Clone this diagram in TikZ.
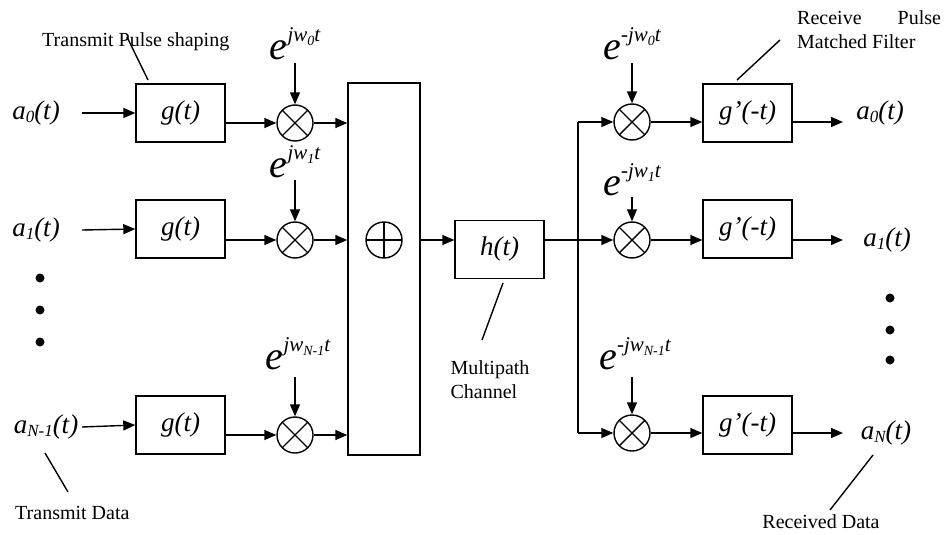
\documentclass[tikz,border=0pt]{standalone}
\usepackage{fontspec}
\setmainfont{Liberation Serif}
\usetikzlibrary{arrows.meta}
\newcommand\lbl{\fontsize{27}{29}\selectfont\itshape}
\newcommand\sml{\fontsize{20}{24}\selectfont}
\newcommand\mysub[1]{\raisebox{-3pt}{\fontsize{17}{17}\selectfont #1}}
\newcommand\expo[2]{{\fontsize{40}{40}\selectfont\itshape e}\raisebox{18pt}{\fontsize{21}{21}\selectfont\itshape #1w\raisebox{-4pt}{\fontsize{14}{14}\selectfont #2}t}}
\tikzset{
  ln/.style={line width=1.4pt},
  arr/.style={ln,-{Triangle[length=12pt,width=10pt]}},
  blk/.style={draw,ln,minimum width=89pt,minimum height=58pt,inner sep=0pt},
  mult/.style={draw,ln,circle,minimum size=36pt,inner sep=0pt,
    path picture={\draw[ln] (path picture bounding box.south west) -- (path picture bounding box.north east)
      (path picture bounding box.north west) -- (path picture bounding box.south east);}},
  addc/.style={draw,ln,circle,minimum size=36pt,inner sep=0pt,
    path picture={\draw[ln] (path picture bounding box.south) -- (path picture bounding box.north)
      (path picture bounding box.west) -- (path picture bounding box.east);}},
  dot/.style={circle,fill,inner sep=0pt,minimum size=9pt},
  txt/.style={inner sep=0pt},
  note/.style={inner sep=0pt,font=\sml},
}
\begin{document}
\begin{tikzpicture}[x=1pt,y=-1pt]
\useasboundingbox (0,0) rectangle (947,535);
% transmit side
\node[txt] (a0) at (36,113) {\lbl a\mysub{0}(t)};
\node[txt] (a1) at (36,230) {\lbl a\mysub{1}(t)};
\node[txt] (aN1) at (46,427) {\lbl a\mysub{N-1}(t)};
\node[dot] (d1) at (40,278) {};
\node[dot] (d2) at (40,310) {};
\node[dot] (d3) at (40,342) {};
\coordinate (i1) at (82,113);
\coordinate (i2) at (82,230);
\coordinate (i3) at (82,427);
\node[blk] (g1) at (180.5,113) {\lbl g(t)};
\node[blk] (g2) at (180.5,229) {\lbl g(t)};
\node[blk] (g3) at (180.5,425) {\lbl g(t)};
\node[mult] (m1) at (295,123) {};
\node[mult] (m2) at (295,240) {};
\node[mult] (m3) at (295,435) {};
\node[txt] (e1) at (295,44) {\expo{j}{0}};
\node[txt] (e2) at (295,162) {\expo{j}{1}};
\node[txt] (e3) at (298,354) {\expo{j}{N-1}};
\coordinate (e1a) at (295,63);
\coordinate (e2a) at (295,180);
\coordinate (e3a) at (295,377);
\draw[arr] (i1) -- (g1.west);
\draw[arr] (i2) -- (g2.west);
\draw[arr] (i3) -- (g3.west);
\draw[arr] (g1.east |- m1) -- (m1);
\draw[arr] (g2.east |- m2) -- (m2);
\draw[arr] (g3.east |- m3) -- (m3);
\draw[arr] (e1a) -- (m1);
\draw[arr] (e2a) -- (m2);
\draw[arr] (e3a) -- (m3);
% sum
\node[draw,ln,minimum width=72pt,minimum height=372pt,inner sep=0pt] (sum) at (384,269) {};
\node[addc] (plus) at (384,240) {};
\draw[arr] (m1) -- (m1 -| sum.west);
\draw[arr] (m2) -- (m2 -| sum.west);
\draw[arr] (m3) -- (m3 -| sum.west);
% channel
\node[blk] (h) at (499.5,249.5) {\lbl h(t)};
\draw[arr] (plus -| sum.east) -- (plus -| h.west);
\coordinate (bus) at (578,240);
\coordinate (bt) at (578,122);
\coordinate (bb) at (578,433);
\draw[ln] (h.east |- bus) -- (bus);
\draw[ln] (bt) -- (bb);
% receive side
\node[mult] (r1) at (632,122) {};
\node[mult] (r2) at (632,240) {};
\node[mult] (r3) at (632,433) {};
\draw[arr] (bt) -- (r1);
\draw[arr] (bus) -- (r2);
\draw[arr] (bb) -- (r3);
\node[txt] (f1) at (632,44) {\expo{-j}{0}};
\node[txt] (f2) at (632,180) {\expo{-j}{1}};
\node[txt] (f3) at (635,354) {\expo{-j}{N-1}};
\coordinate (f1a) at (632,63);
\coordinate (f2a) at (632,197);
\coordinate (f3a) at (632,377);
\draw[arr] (f1a) -- (r1);
\draw[arr] (f2a) -- (r2);
\draw[arr] (f3a) -- (r3);
\node[blk] (q1) at (747.5,113) {\lbl g’(-t)};
\node[blk] (q2) at (747.5,229) {\lbl g’(-t)};
\node[blk] (q3) at (747.5,425) {\lbl g’(-t)};
\draw[arr] (r1) -- (r1 -| q1.west);
\draw[arr] (r2) -- (r2 -| q2.west);
\draw[arr] (r3) -- (r3 -| q3.west);
\coordinate (o1) at (843,122);
\coordinate (o2) at (843,240);
\coordinate (o3) at (843,433);
\draw[arr] (q1.east |- o1) -- (o1);
\draw[arr] (q2.east |- o2) -- (o2);
\draw[arr] (q3.east |- o3) -- (o3);
\node[txt] (b0) at (880,113) {\lbl a\mysub{0}(t)};
\node[txt] (b1) at (887,240) {\lbl a\mysub{1}(t)};
\node[txt] (bN) at (886,433) {\lbl a\mysub{N}(t)};
\node[dot] (rd1) at (890,298) {};
\node[dot] (rd2) at (890,330) {};
\node[dot] (rd3) at (890,360) {};
% annotations
\node[note,anchor=west] (tps) at (42,42) {Transmit Pulse shaping};
\coordinate (tpsa) at (127,37);
\coordinate (tpsb) at (148,80);
\draw[ln] (tpsa) -- (tpsb);
\node[note,anchor=west] (td) at (15,513) {Transmit Data};
\coordinate (tda) at (45,453);
\coordinate (tdb) at (68,492);
\draw[ln] (tda) -- (tdb);
\node[note,align=left] (mc) at (490,380) {Multipath\\Channel};
\coordinate (mca) at (503,283);
\coordinate (mcb) at (482,340);
\draw[ln] (mca) -- (mcb);
\node[note,align=left,anchor=north west] (rp) at (797,10) {Receive\hspace{36pt}Pulse\\Matched Filter};
\coordinate (rpa) at (780,40);
\coordinate (rpb) at (737,80);
\draw[ln] (rpa) -- (rpb);
\node[note] (rd) at (821,522) {Received Data};
\coordinate (rda) at (873,455);
\coordinate (rdb) at (830,510);
\draw[ln] (rda) -- (rdb);
\end{tikzpicture}
\end{document}
